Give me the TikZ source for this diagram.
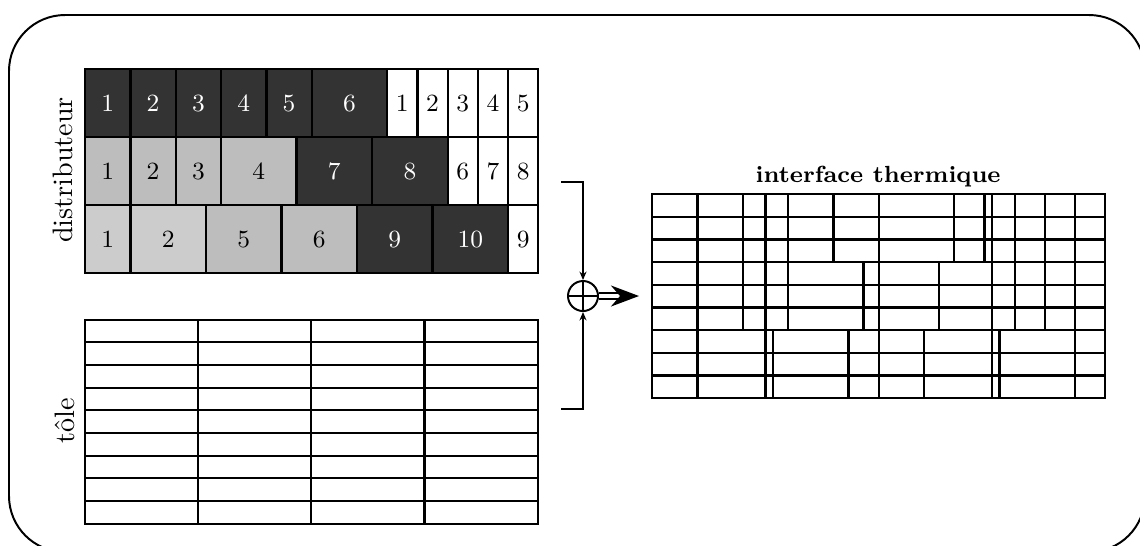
\documentclass[tikz,border=0pt]{standalone}
\usepackage{tikz}
\usetikzlibrary{arrows.meta,positioning}

% distributeur cells of each row: start/end/label/style (unit = one narrow cell)
\newcommand{\rowA}{0/1.5/1/dcell, 1.5/3/2/dcell, 3/4.5/3/dcell, 4.5/6/4/dcell, 6/7.5/5/dcell, 7.5/10/6/dcell, 10/11/1/wcell, 11/12/2/wcell, 12/13/3/wcell, 13/14/4/wcell, 14/15/5/wcell}
\newcommand{\rowB}{0/1.5/1/gcell, 1.5/3/2/gcell, 3/4.5/3/gcell, 4.5/7/4/gcell, 7/9.5/7/dcell, 9.5/12/8/dcell, 12/13/6/wcell, 13/14/7/wcell, 14/15/8/wcell}
\newcommand{\rowC}{0/1.5/1/lcell, 1.5/4/2/lcell, 4/6.5/5/gcell, 6.5/9/6/gcell, 9/11.5/9/dcell, 11.5/14/10/dcell, 14/15/9/wcell}

\begin{document}
\begin{tikzpicture}[
    x=0.0125cm, y=-0.0125cm,
    cell/.style={draw, line width=0.8pt, inner sep=0, anchor=north west, minimum height=0.85cm, font=\fontsize{8.8}{10}\selectfont},
    dcell/.style={cell, fill=black!80, text=white},
    gcell/.style={cell, fill=black!26},
    lcell/.style={cell, fill=black!20},
    wcell/.style={cell, fill=white},
    tcell/.style={draw, line width=0.8pt, inner sep=0, anchor=north west, minimum width=1.415625cm, minimum height=0.28333cm},
    lab/.style={rotate=90},
    tip/.style={-{Stealth[length=3pt, width=2.5pt]}}
]
\useasboundingbox (0,0) rectangle (1140,545);

% Outer frame (runs off the page)
\begin{scope}
    \clip (0,0) rectangle (1140,545);
    \draw[line width=0.7pt, rounded corners=0.7cm] (9,15) rectangle (1145,552);
\end{scope}

% Distributeur
\begin{scope}[shift={(84,68)}, x=0.3775cm, y=-0.85cm]
    \foreach \a/\b/\t/\s [count=\i] in \rowA
        \node[\s, minimum width={(\b-\a)*0.3775cm}] (dA\i) at (\a,0) {\t};
    \foreach \a/\b/\t/\s [count=\i] in \rowB
        \node[\s, minimum width={(\b-\a)*0.3775cm}] (dB\i) at (\a,1) {\t};
    \foreach \a/\b/\t/\s [count=\i] in \rowC
        \node[\s, minimum width={(\b-\a)*0.3775cm}] (dC\i) at (\a,2) {\t};
\end{scope}
\node[lab] (ldist) at (63,170) {distributeur};

% Tole
\begin{scope}[shift={(83.5,318.5)}, x=0.3775cm, y=-0.28333cm]
    \foreach \c in {0,...,3}
        \foreach \r in {0,...,8}
            \node[tcell] (t\c-\r) at (3.75*\c,\r) {};
\end{scope}
\node[lab] (ltole) at (65,421) {tôle};

% Interface thermique = both grids laid over each other
\node[inner sep=0, anchor=north west, minimum width=5.6625cm, minimum height=2.55cm] (iface) at (651,193) {};
\begin{scope}[shift={(iface.north west)}, x=0.3775cm, y=-0.28333cm]
    \foreach \a/\b/\t/\s [count=\i] in \rowA
        \node[cell, minimum width={(\b-\a)*0.3775cm}] (iA\i) at (\a,0) {};
    \foreach \a/\b/\t/\s [count=\i] in \rowB
        \node[cell, minimum width={(\b-\a)*0.3775cm}] (iB\i) at (\a,3) {};
    \foreach \a/\b/\t/\s [count=\i] in \rowC
        \node[cell, minimum width={(\b-\a)*0.3775cm}] (iC\i) at (\a,6) {};
    \foreach \c in {0,...,3}
        \foreach \r in {0,...,8}
            \node[tcell] (i\c-\r) at (3.75*\c,\r) {};
\end{scope}
\node[font=\fontsize{8.3}{10}\selectfont\bfseries, inner sep=0, above=1.8pt of iface] (title) {interface thermique};

% Sum of the two grids
\node[draw, circle, line width=0.7pt, minimum size=0.375cm, inner sep=0] (sum) at (583,296) {};
\draw[line width=0.7pt] (sum.north) -- (sum.south) (sum.west) -- (sum.east);
\coordinate (dtop) at (561,182);
\coordinate (tbot) at (561,409);
\draw[line width=0.7pt, tip] (dtop) -| (sum.north);
\draw[line width=0.7pt, tip] (tbot) -| (sum.south);
\coordinate[left=0.15cm of iface.west] (iin);
\draw[line width=0.7pt, double, double distance=1.4pt, -{Stealth[length=10pt, width=7.5pt]}] (sum.east) -- (sum.east -| iin);
\end{tikzpicture}
\end{document}
